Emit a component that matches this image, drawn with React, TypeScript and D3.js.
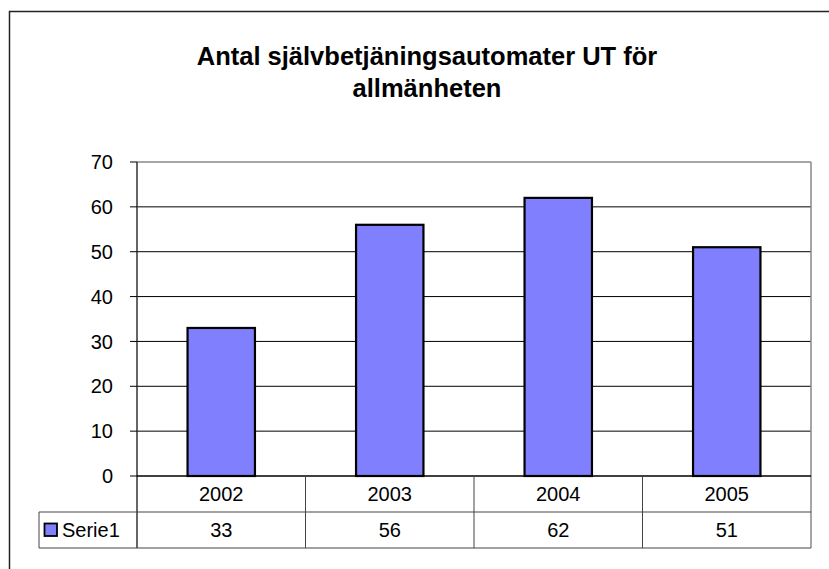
import * as React from 'react'
import * as d3 from 'd3'

const years = ['2002', '2003', '2004', '2005']
const values = [33, 56, 62, 51]
const yTicks = [0, 10, 20, 30, 40, 50, 60, 70]
const seriesName = 'Serie1'
const titleLines = ['Antal självbetjäningsautomater UT för', 'allmänheten']

const W = 829
const H = 569
const plot = { left: 137, right: 811, top: 162, bottom: 476 }
const rowH = 36
const font = 'Arial, "Liberation Sans", sans-serif'

export default function App() {
  const y = d3.scaleLinear().domain([0, 70]).range([plot.bottom, plot.top])
  const x = d3.scaleBand<string>().domain(years).range([plot.left, plot.right])
  const barW = x.bandwidth() / 2.5
  const row1 = plot.bottom
  const row2 = plot.bottom + rowH
  const row3 = plot.bottom + rowH * 2
  const legendLeft = 39

  return (
    <div style={{ position: 'fixed', left: 0, top: 0 }}>
      <svg width={W} height={H} style={{ display: 'block', background: '#fff' }} fontFamily={font}>
        {/* chart frame, runs past the picture edge */}
        <rect x={9.5} y={11.5} width={W + 20} height={H + 20} fill="none" stroke="#222" strokeWidth={1.5} />

        <g fontWeight="bold" fontSize={25.5} textAnchor="middle" fill="#000">
          {titleLines.map((t, i) => (
            <text key={t} x={427} y={65 + i * 32}>{t}</text>
          ))}
        </g>

        {/* gridlines */}
        {yTicks.filter(t => t > 0 && t < 70).map(t => (
          <line key={t} x1={plot.left} x2={plot.right} y1={y(t)} y2={y(t)} stroke="#000" strokeWidth={1} />
        ))}
        <line x1={plot.left} x2={plot.right} y1={y(70)} y2={y(70)} stroke="#888" strokeWidth={1.5} />
        <line x1={plot.right} x2={plot.right} y1={y(70)} y2={row3} stroke="#888" strokeWidth={1.5} />

        {/* bars */}
        {values.map((v, i) => (
          <rect key={years[i]}
            x={x(years[i])! + (x.bandwidth() - barW) / 2}
            y={y(v)}
            width={barW}
            height={y(0) - y(v)}
            fill="#8080FF" stroke="#000" strokeWidth={2.2} />
        ))}

        {/* y axis */}
        <line x1={plot.left} x2={plot.left} y1={y(70)} y2={row3} stroke="#333" strokeWidth={1.5} />
        {yTicks.map(t => (
          <g key={t}>
            <line x1={plot.left - 7} x2={plot.left} y1={y(t)} y2={y(t)} stroke="#000" strokeWidth={1} />
            <text x={113} y={y(t)} dy="0.36em" textAnchor="end" fontSize={20}>{t}</text>
          </g>
        ))}

        {/* data table */}
        <line x1={plot.left} x2={plot.right} y1={row1} y2={row1} stroke="#000" strokeWidth={1.5} />
        <line x1={legendLeft} x2={plot.right} y1={row2} y2={row2} stroke="#444" strokeWidth={1} />
        <line x1={legendLeft} x2={plot.right} y1={row3} y2={row3} stroke="#444" strokeWidth={1} />
        <line x1={legendLeft} x2={legendLeft} y1={row2} y2={row3} stroke="#444" strokeWidth={1} />
        {years.slice(1).map(yr => (
          <line key={yr} x1={x(yr)} x2={x(yr)} y1={row1} y2={row3} stroke="#444" strokeWidth={1} />
        ))}
        {years.map((yr, i) => (
          <g key={yr} fontSize={20} textAnchor="middle">
            <text x={x(yr)! + x.bandwidth() / 2} y={(row1 + row2) / 2} dy="0.36em">{yr}</text>
            <text x={x(yr)! + x.bandwidth() / 2} y={(row2 + row3) / 2} dy="0.36em">{values[i]}</text>
          </g>
        ))}
        <rect x={44.5} y={(row2 + row3) / 2 - 6.5} width={12.5} height={12.5} fill="#8080FF" stroke="#000" strokeWidth={1.8} />
        <text x={62} y={(row2 + row3) / 2} dy="0.36em" fontSize={20}>{seriesName}</text>
      </svg>
    </div>
  )
}
